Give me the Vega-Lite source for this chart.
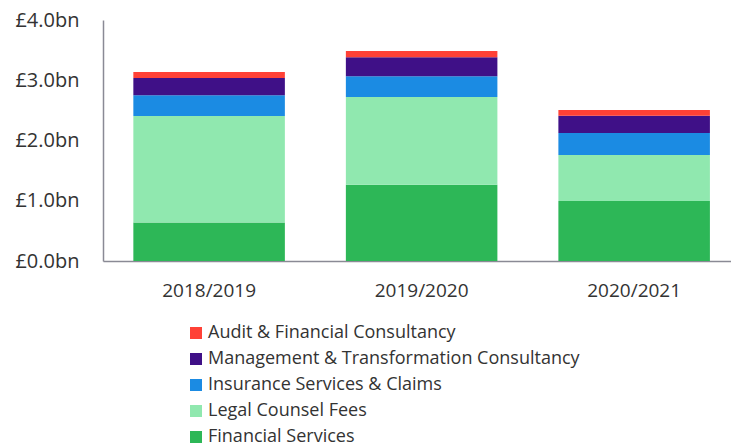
{
"$schema": "https://vega.github.io/schema/vega-lite/v6.json",
"width": 628, "height": 241,
"autosize": {"type": "none"},
"padding": {"left": 103, "top": 20, "right": 0, "bottom": 186},
"background": "white",
"config": {"view": {"stroke": null}, "font": "Open Sans"},
"data": {"values": [
 {"year": "2018/2019", "category": "Financial Services", "ord": 1, "value": 0.64},
 {"year": "2018/2019", "category": "Legal Counsel Fees", "ord": 2, "value": 1.765},
 {"year": "2018/2019", "category": "Insurance Services & Claims", "ord": 3, "value": 0.348},
 {"year": "2018/2019", "category": "Management & Transformation Consultancy", "ord": 4, "value": 0.285},
 {"year": "2018/2019", "category": "Audit & Financial Consultancy", "ord": 5, "value": 0.097},
 {"year": "2019/2020", "category": "Financial Services", "ord": 1, "value": 1.267},
 {"year": "2019/2020", "category": "Legal Counsel Fees", "ord": 2, "value": 1.455},
 {"year": "2019/2020", "category": "Insurance Services & Claims", "ord": 3, "value": 0.343},
 {"year": "2019/2020", "category": "Management & Transformation Consultancy", "ord": 4, "value": 0.315},
 {"year": "2019/2020", "category": "Audit & Financial Consultancy", "ord": 5, "value": 0.105},
 {"year": "2020/2021", "category": "Financial Services", "ord": 1, "value": 0.996},
 {"year": "2020/2021", "category": "Legal Counsel Fees", "ord": 2, "value": 0.763},
 {"year": "2020/2021", "category": "Insurance Services & Claims", "ord": 3, "value": 0.365},
 {"year": "2020/2021", "category": "Management & Transformation Consultancy", "ord": 4, "value": 0.288},
 {"year": "2020/2021", "category": "Audit & Financial Consultancy", "ord": 5, "value": 0.094}
]},
"mark": {"type": "bar"},
"encoding": {
 "x": {"field": "year", "type": "nominal",
  "scale": {"paddingInner": 0.287, "paddingOuter": 0.121, "align": 0.59},
  "axis": {"title": null, "labelAngle": 0, "labelFontSize": 19, "labelColor": "#333333", "labelPadding": 20, "ticks": false, "domainColor": "#8a8a95", "domainWidth": 1.5}},
 "y": {"field": "value", "type": "quantitative", "scale": {"domain": [0, 4]},
  "axis": {"title": null, "values": [0, 1, 2, 3, 4], "labelExpr": "'£' + format(datum.value, '.1f') + 'bn'", "labelFontSize": 20, "labelColor": "#333333", "labelPadding": 24, "ticks": false, "grid": false, "domainColor": "#8a8a95", "domainWidth": 1.5}},
 "color": {"field": "category", "type": "nominal",
  "scale": {"domain": ["Audit & Financial Consultancy", "Management & Transformation Consultancy", "Insurance Services & Claims", "Legal Counsel Fees", "Financial Services"],
   "range": ["#FF4136", "#3F1087", "#1B8BE3", "#90E8AF", "#2DB757"]},
  "legend": {"title": null, "orient": "none", "legendX": 84, "legendY": 304, "symbolType": "square", "symbolSize": 144, "symbolStrokeWidth": 0, "labelFontSize": 18, "labelLimit": 0, "labelColor": "#333333", "rowPadding": 8, "labelOffset": 3}},
 "order": {"field": "ord", "type": "quantitative"}
}
}
